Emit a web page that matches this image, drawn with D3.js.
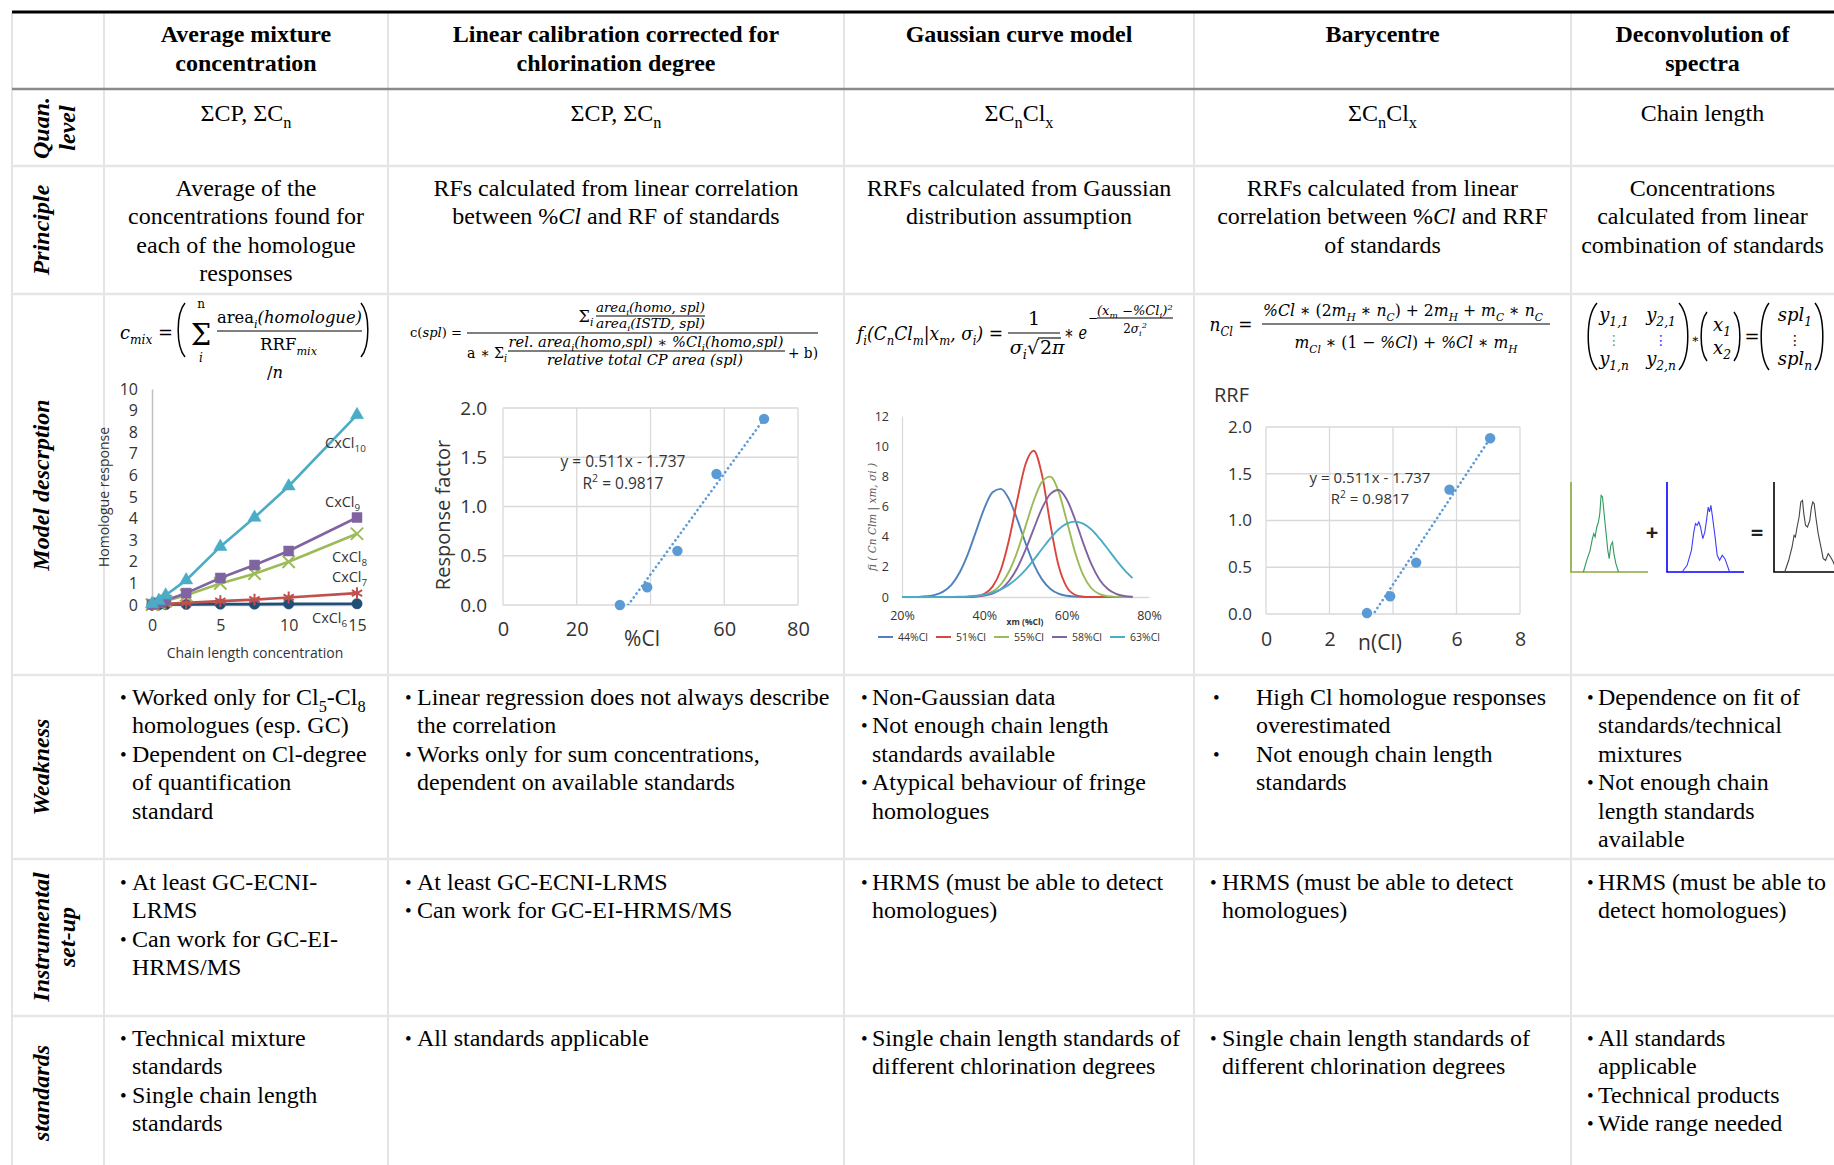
<!DOCTYPE html>
<html lang="en">
<head>
<meta charset="UTF-8">
<title>Quantification approaches for chlorinated paraffins</title>
<script src="https://d3js.org/d3.v7.min.js"></script>
<style>
  body { margin: 0; background: #fff; }
  svg { display: block; background: #fff; }
  .cell { font-family: "Liberation Serif", "Times New Roman", serif; font-size: 24px; fill: #000; }
  .head { font-weight: bold; }
  .rowlab { font-weight: bold; font-style: italic; }
  .bul { font-size: 19px; }
  .math { font-family: "DejaVu Serif", serif; font-style: italic; fill: #000; }
  .ch { font-family: "Open Sans", sans-serif; fill: #333; }
</style>
</head>
<body>
<svg id="fig" width="1834" height="1165"></svg>
<script>
// ---- table text ----
const methods = [
  ["Average mixture", "concentration"],
  ["Linear calibration corrected for", "chlorination degree"],
  ["Gaussian curve model"],
  ["Barycentre"],
  ["Deconvolution of", "spectra"]
];
const rowLabels = [["Quan.", "level"], ["Principle"], ["Model descrption"], ["Weakness"], ["Instrumental", "set-up"], ["standards"]];
const quanLevel = ["ΣCP, ΣC_{n}", "ΣCP, ΣC_{n}", "ΣC_{n}Cl_{x}", "ΣC_{n}Cl_{x}", "Chain length"];
const principle = [
  ["Average of the", "concentrations found for", "each of the homologue", "responses"],
  ["RFs calculated  from linear correlation", "between %@{Cl} and RF of standards"],
  ["RRFs calculated  from Gaussian", "distribution assumption"],
  ["RRFs calculated  from linear", "correlation  between %@{Cl} and RRF", "of standards"],
  ["Concentrations", "calculated  from linear", "combination of standards"]
];
const weakness = [
  [["Worked only for Cl_{5}-Cl_{8}", "homologues (esp. GC)"], ["Dependent on Cl-degree", "of quantification", "standard"]],
  [["Linear regression does not always describe", "the correlation"], ["Works only for sum concentrations,", "dependent on available  standards"]],
  [["Non-Gaussian data"], ["Not enough chain length", "standards available"], ["Atypical behaviour of fringe", "homologues"]],
  [["High Cl homologue responses", "overestimated"], ["Not enough chain length", "standards"]],
  [["Dependence on fit of", "standards/technical", "mixtures"], ["Not enough chain", "length standards", "available"]]
];
const instrumental = [
  [["At least GC-ECNI-", "LRMS"], ["Can work for GC-EI-", "HRMS/MS"]],
  [["At least GC-ECNI-LRMS"], ["Can work for GC-EI-HRMS/MS"]],
  [["HRMS (must be able to detect", "homologues)"]],
  [["HRMS (must be able to detect", "homologues)"]],
  [["HRMS (must be able to", "detect homologues)"]]
];
const standardsTxt = [
  [["Technical  mixture", "standards"], ["Single  chain length", "standards"]],
  [["All standards applicable"]],
  [["Single chain length standards of", "different chlorination degrees"]],
  [["Single chain length standards of", "different chlorination degrees"]],
  [["All standards", "applicable"], ["Technical  products"], ["Wide range needed"]]
];

// ---- chart 1: homologue response vs chain length concentration ----
const chainConc = [0, 0.5, 1, 2.5, 5, 7.5, 10, 15];
const cxcl10 = [0.05, 0.2, 0.45, 1.15, 2.7, 4.05, 5.5, 8.8];
const cxcl9 = [0.03, 0.1, 0.22, 0.55, 1.25, 1.85, 2.5, 4.05];
const cxcl8 = [0.02, 0.08, 0.18, 0.45, 1.0, 1.45, 2.0, 3.3];
const cxcl7 = [0, 0.02, 0.05, 0.1, 0.18, 0.25, 0.35, 0.55];
const cxcl6 = [0, 0.01, 0.02, 0.03, 0.04, 0.04, 0.05, 0.06];
const respTicks = [0, 1, 2, 3, 4, 5, 6, 7, 8, 9, 10];
const concTicks = [0, 5, 10, 15];

// ---- chart 2: response factor vs %Cl ----
const pctCl = [31.7, 39.1, 47.3, 57.9, 70.8];
const respFactor = [0.0, 0.18, 0.55, 1.33, 1.89];
const pctGrid = [0, 20, 40, 60, 80];
const pctLabels = [0, 20, 60, 80];
const rfTicks = [0, 0.5, 1.0, 1.5, 2.0];

// ---- chart 3: gaussian curves ----
const xm = [20, 22, 24, 26, 28, 30, 32, 34, 36, 38, 40, 42, 44, 46, 48, 50, 52, 54, 56, 58, 60, 62, 64, 66, 68, 70, 72, 74, 76];
const g44 = [0, 0, 0.01, 0.05, 0.14, 0.36, 0.81, 1.62, 2.84, 4.37, 5.88, 6.94, 7.17, 6.49, 5.15, 3.58, 2.18, 1.17, 0.55, 0.22, 0.08, 0.03, 0.01, 0, 0, 0, 0, 0, 0];
const g51 = [0, 0, 0, 0, 0, 0, 0, 0, 0.01, 0.05, 0.21, 0.69, 1.79, 3.79, 6.43, 8.8, 9.7, 8.1, 4.88, 2.12, 0.67, 0.15, 0.02, 0, 0, 0, 0, 0, 0];
const g55 = [0, 0, 0, 0, 0, 0, 0, 0, 0.01, 0.04, 0.14, 0.36, 0.83, 1.69, 3.0, 4.68, 6.38, 7.63, 7.98, 7.02, 5.07, 3.0, 1.46, 0.58, 0.19, 0.05, 0.01, 0, 0];
const g58 = [0, 0, 0, 0, 0, 0, 0, 0, 0.01, 0.03, 0.09, 0.23, 0.52, 1.06, 1.92, 3.12, 4.52, 5.87, 6.82, 7.09, 6.48, 5.17, 3.59, 2.18, 1.15, 0.53, 0.21, 0.07, 0.02];
const g63 = [0, 0, 0, 0, 0, 0, 0.01, 0.02, 0.04, 0.08, 0.16, 0.29, 0.5, 0.82, 1.25, 1.8, 2.46, 3.18, 3.87, 4.47, 4.86, 5.0, 4.86, 4.47, 3.87, 3.18, 2.46, 1.8, 1.25];
const gaussNames = ["44%Cl", "51%Cl", "55%Cl", "58%Cl", "63%Cl"];
const fiTicks = [0, 2, 4, 6, 8, 10, 12];
const xmTicks = [20, 40, 60, 80];

// ---- chart 4: RRF vs n(Cl) ----
const nCl = [3.18, 3.91, 4.73, 5.78, 7.06];
const rrf = [0.01, 0.19, 0.55, 1.33, 1.88];
const nGrid = [0, 2, 4, 6, 8];
const nLabels = [0, 2, 6, 8];

// ---- chart 5: spectra (relative position, relative intensity) ----
const specStd1 = [[16.1, 0], [20.4, 13], [24.8, 24.1], [27.8, 37], [29.6, 42.6], [31.3, 38.9], [33.5, 50], [35.7, 55.6], [37.4, 64.8], [39.1, 85.2], [40.9, 83.3], [43, 64.8], [45.2, 46.3], [47.8, 24.1], [49.6, 14.8], [51.7, 29.6], [53.9, 33.3], [55.7, 20.4], [58.3, 9.3], [61.7, 0]];
const specStd2 = [[19.6, 0], [26.1, 7.4], [31.7, 24.1], [34.8, 44.4], [37, 53.7], [39.1, 51.9], [41.3, 55.6], [43.5, 50], [46.5, 37], [49.1, 44.4], [51.3, 57.4], [53.5, 72.2], [55.2, 66.7], [57, 74.1], [59.1, 61.1], [62.2, 40.7], [65.2, 18.5], [68.3, 13], [71.7, 18.5], [75.2, 14.8], [78.3, 7.4], [81.3, 0]];
const specSample = [[13.9, 0], [19.1, 13], [23.5, 27.8], [26.1, 40.7], [27.8, 38.9], [30, 50], [32.6, 61.1], [34.8, 77.8], [37, 79.6], [38.7, 64.8], [40.9, 51.9], [43.5, 50], [46.5, 57.4], [48.7, 72.2], [50.4, 77.8], [52.2, 75.9], [54.3, 61.1], [57.4, 42.6], [60.9, 27.8], [63.9, 14.8], [67, 13], [70.4, 20.4], [73.5, 16.7], [77, 11.1], [81.3, 1.9]];

// ---- layout ----
const FS = 24, LH = 28.4;
const colX = [12, 104, 388, 844, 1194, 1571, 1834];
const rowY = [12, 89, 166, 294, 675, 859, 1016, 1165];
const mid = i => (colX[i + 1] + colX[i + 2]) / 2;
const bulletX = [120, 405, 861, 1210, 1587];
const textX = [132, 417, 872, 1222, 1598];

const svg = d3.select("#fig");

// text with _{sub} ^{sup} @{italic} #{upright}
function rich(t, str, fs) {
  const parts = str.split(/(_\{[^}]*\}|\^\{[^}]*\}|@\{[^}]*\}|#\{[^}]*\})/).filter(s => s.length);
  let shift = 0;
  parts.forEach(p => {
    let txt = p, dy = 0, small = false, style = null;
    const tag = p.slice(0, 2);
    if (tag === "_{") { txt = p.slice(2, -1); dy = fs * 0.28; small = true; }
    else if (tag === "^{") { txt = p.slice(2, -1); dy = -fs * 0.42; small = true; }
    else if (tag === "@{") { txt = p.slice(2, -1); style = "italic"; }
    else if (tag === "#{") { txt = p.slice(2, -1); style = "normal"; }
    const ts = t.append("tspan").text(txt);
    if (dy - shift !== 0) ts.attr("dy", dy - shift);
    shift = dy;
    if (small) ts.style("font-size", (fs * 0.68) + "px");
    if (style) ts.style("font-style", style);
  });
  return t;
}

function mtext(g, x, y, str, fs, anchor, len) {
  const t = g.append("text").attr("class", "math").attr("x", x).attr("y", y)
    .attr("text-anchor", anchor || "start").style("font-size", fs + "px");
  rich(t, str, fs);
  if (len) t.attr("textLength", len).attr("lengthAdjust", "spacingAndGlyphs");
  return t;
}

function hbar(g, xa, xb, y) {
  g.append("line").attr("x1", xa).attr("x2", xb).attr("y1", y).attr("y2", y)
    .attr("stroke", "#000").attr("stroke-width", 1.1);
}

function paren(g, x, y0, y1, side, w) {
  const h = y1 - y0, p = d3.path();
  if (side === "L") {
    p.moveTo(x + w, y0);
    p.bezierCurveTo(x - w * 0.3, y0 + h * 0.2, x - w * 0.3, y1 - h * 0.2, x + w, y1);
  } else {
    p.moveTo(x - w, y0);
    p.bezierCurveTo(x + w * 0.3, y0 + h * 0.2, x + w * 0.3, y1 - h * 0.2, x - w, y1);
  }
  g.append("path").attr("d", p.toString()).attr("fill", "none").attr("stroke", "#000").attr("stroke-width", 1.5);
}

// ---- grid of the table ----
const grid = svg.append("g");
colX.slice(0, 6).forEach(x => {
  grid.append("line").attr("x1", x).attr("x2", x).attr("y1", rowY[0]).attr("y2", 1165)
    .attr("stroke", "#e4e4e4").attr("stroke-width", 2);
});
rowY.slice(2, 7).forEach(y => {
  grid.append("line").attr("x1", colX[0]).attr("x2", 1834).attr("y1", y).attr("y2", y)
    .attr("stroke", "#e6e6e6").attr("stroke-width", 2.5);
});
grid.append("line").attr("x1", colX[0]).attr("x2", 1834).attr("y1", rowY[1]).attr("y2", rowY[1])
  .attr("stroke", "#8a8a8a").attr("stroke-width", 2.5);
grid.append("line").attr("x1", colX[0]).attr("x2", 1834).attr("y1", rowY[0]).attr("y2", rowY[0])
  .attr("stroke", "#000").attr("stroke-width", 3);

// ---- header ----
const txt = svg.append("g");
methods.forEach((lines, i) => {
  lines.forEach((s, k) => {
    txt.append("text").attr("class", "cell head").attr("x", mid(i)).attr("y", 41.5 + k * 29)
      .attr("text-anchor", "middle").text(s);
  });
});

// ---- row labels (rotated) ----
const rowMid = [128, 230, 485, 767, 937, 1093];
rowLabels.forEach((lines, r) => {
  lines.forEach((s, k) => {
    txt.append("text").attr("class", "cell rowlab")
      .attr("transform", `translate(${41 + k * 26},${rowMid[r]}) rotate(-90)`)
      .attr("text-anchor", "middle").attr("dy", "0.33em").text(s);
  });
});

// ---- centred rows ----
quanLevel.forEach((s, i) => {
  rich(txt.append("text").attr("class", "cell").attr("x", mid(i)).attr("y", 121).attr("text-anchor", "middle"), s, FS);
});
principle.forEach((lines, i) => {
  lines.forEach((s, k) => {
    rich(txt.append("text").attr("class", "cell").attr("x", mid(i)).attr("y", 196 + k * LH).attr("text-anchor", "middle"), s, FS);
  });
});

// ---- bullet rows ----
function bullets(items, xb, xt, y0) {
  let k = 0;
  items.forEach(item => {
    txt.append("text").attr("class", "cell bul").attr("x", xb).attr("y", y0 + k * LH - 1).text("•");
    item.forEach(s => {
      rich(txt.append("text").attr("class", "cell").attr("x", xt).attr("y", y0 + k * LH), s, FS);
      k++;
    });
  });
}
weakness.forEach((items, i) => {
  if (i === 3) bullets(items, 1213, 1256, 705);
  else bullets(items, bulletX[i], textX[i], 705);
});
instrumental.forEach((items, i) => bullets(items, bulletX[i], textX[i], 890));
standardsTxt.forEach((items, i) => bullets(items, bulletX[i], textX[i], 1046));

// =================== chart 1 ===================
const c1 = svg.append("g");
mtext(c1, 120, 339, "c_{mix} #{=}", 18, "start", 53);
paren(c1, 178, 303, 357, "L", 7);
paren(c1, 368, 303, 357, "R", 7);
mtext(c1, 201, 345, "#{Σ}", 29, "middle");
mtext(c1, 201, 308, "#{n}", 12, "middle");
mtext(c1, 201, 362, "i", 12, "middle");
mtext(c1, 289.5, 323, "#{area}_{i}(homologue)", 17, "middle", 145);
hbar(c1, 217, 362, 331);
mtext(c1, 288.5, 350, "#{RRF}_{mix}", 17, "middle", 57);
mtext(c1, 275, 378, "#{/}n", 17, "middle", 16);

const x1 = d3.scaleLinear().domain([0, 15]).range([152, 357]);
const y1 = d3.scaleLinear().domain([0, 10]).range([605, 389]);
const ax1y = c1.append("g").attr("transform", "translate(152,0)")
  .call(d3.axisLeft(y1).tickValues(respTicks).tickSize(0).tickPadding(14));
const ax1x = c1.append("g").attr("transform", "translate(0,605)")
  .call(d3.axisBottom(x1).tickValues(concTicks).tickSize(0).tickPadding(15));
[ax1y, ax1x].forEach(a => {
  a.select(".domain").attr("stroke", "#bfbfbf").attr("stroke-width", 1.5);
  a.selectAll("text").attr("class", "ch").style("font-size", "16px").attr("fill", "#333");
});
c1.append("text").attr("class", "ch").attr("transform", "translate(104,497) rotate(-90)")
  .attr("text-anchor", "middle").attr("dy", "0.35em").style("font-size", "14px").text("Homologue response");
c1.append("text").attr("class", "ch").attr("x", 255).attr("y", 658)
  .attr("text-anchor", "middle").style("font-size", "14px").text("Chain length concentration");

const times = d3.symbolTimes || d3.symbolCross;
const aster = d3.symbolAsterisk || d3.symbolCross;
const series1 = [
  { v: cxcl6, c: "#1f4e79", sym: d3.symbolCircle, size: 85, stroke: false },
  { v: cxcl7, c: "#c0504d", sym: aster, size: 100, stroke: true },
  { v: cxcl8, c: "#9bbb59", sym: times, size: 100, stroke: true },
  { v: cxcl9, c: "#8064a2", sym: d3.symbolSquare, size: 100, stroke: false },
  { v: cxcl10, c: "#4bacc6", sym: d3.symbolTriangle, size: 75, stroke: false }
];
const line1 = d3.line().x(d => x1(d[0])).y(d => y1(d[1]));
series1.forEach(s => {
  const pts = chainConc.map((c, i) => [c, s.v[i]]);
  c1.append("path").attr("d", line1(pts)).attr("fill", "none").attr("stroke", s.c).attr("stroke-width", 2.6);
  c1.selectAll(null).data(pts).enter().append("path")
    .attr("transform", d => `translate(${x1(d[0])},${y1(d[1])})`)
    .attr("d", d3.symbol().type(s.sym).size(s.size))
    .attr("fill", s.stroke ? "none" : s.c)
    .attr("stroke", s.c).attr("stroke-width", s.stroke ? 2 : 0.5);
});
const lab1 = [["CxCl_{10}", 325, 448], ["CxCl_{9}", 325, 507], ["CxCl_{8}", 332, 562], ["CxCl_{7}", 332, 582], ["CxCl_{6}", 312, 623]];
lab1.forEach(l => {
  rich(c1.append("text").attr("class", "ch").attr("x", l[1]).attr("y", l[2]).style("font-size", "14.5px"), l[0], 14.5);
});

// regression helper for trendlines
function fit(xs, ys) {
  const mx = d3.mean(xs), my = d3.mean(ys);
  const sxy = d3.sum(xs, (x, i) => (x - mx) * (ys[i] - my));
  const sxx = d3.sum(xs, x => (x - mx) * (x - mx));
  const b = sxy / sxx;
  return { b: b, a: my - b * mx };
}

function scatter(g, id, xs, ys, xS, yS, gridX, labX, yTicks, o) {
  const [xa, xb] = xS.range(), [ya, yb] = yS.range();
  gridX.forEach(v => g.append("line").attr("x1", xS(v)).attr("x2", xS(v)).attr("y1", ya).attr("y2", yb)
    .attr("stroke", "#d9d9d9").attr("stroke-width", 1.3));
  yTicks.forEach(v => g.append("line").attr("x1", xa).attr("x2", xb).attr("y1", yS(v)).attr("y2", yS(v))
    .attr("stroke", "#d9d9d9").attr("stroke-width", 1.3));
  const ay = g.append("g").attr("transform", `translate(${xa},0)`)
    .call(d3.axisLeft(yS).tickValues(yTicks).tickFormat(d3.format(".1f")).tickSize(0).tickPadding(o.padY));
  const ax = g.append("g").attr("transform", `translate(0,${ya})`)
    .call(d3.axisBottom(xS).tickValues(labX).tickFormat(d3.format("d")).tickSize(0).tickPadding(o.padX));
  ay.selectAll("text").attr("class", "ch").style("font-size", o.fy + "px").attr("fill", "#262626");
  ax.selectAll("text").attr("class", "ch").style("font-size", o.fx + "px").attr("fill", "#262626");
  [ay, ax].forEach(a => a.select(".domain").remove());
  // trendline, clipped to the plot area
  g.append("clipPath").attr("id", id).append("rect")
    .attr("x", xa).attr("y", yb).attr("width", xb - xa).attr("height", ya - yb);
  const f = fit(xs, ys), x0 = d3.min(xs), x9 = d3.max(xs);
  g.append("line").attr("clip-path", `url(#${id})`)
    .attr("x1", xS(x0)).attr("y1", yS(f.a + f.b * x0)).attr("x2", xS(x9)).attr("y2", yS(f.a + f.b * x9))
    .attr("stroke", "#5b9bd5").attr("stroke-width", 2.6).attr("stroke-linecap", "round").attr("stroke-dasharray", "0.1 4.6");
  g.selectAll(null).data(xs).enter().append("circle")
    .attr("cx", d => xS(d)).attr("cy", (d, i) => yS(ys[i])).attr("r", 5.2).attr("fill", "#5b9bd5");
}

// =================== chart 2 ===================
const c2 = svg.append("g");
mtext(c2, 436, 337, "#{c(}spl#{) =}", 13.5, "middle", 52);
hbar(c2, 467, 818, 333);
mtext(c2, 586, 322, "#{Σ}_{i}", 16, "middle");
mtext(c2, 650.5, 312, "area_{i}(homo, spl)", 12, "middle", 109);
hbar(c2, 596, 705, 316);
mtext(c2, 650.5, 328, "area_{i}(ISTD, spl)", 12, "middle", 109);
mtext(c2, 487, 358, "#{a ∗ Σ}_{i}", 15, "middle", 40);
mtext(c2, 646, 347, "rel. area_{i}(homo,spl) #{∗} %Cl_{i}(homo,spl)", 14, "middle", 275);
hbar(c2, 508, 785, 351);
mtext(c2, 645, 365, "relative total CP area (spl)", 14, "middle", 196);
mtext(c2, 803, 358, "#{+ b)}", 15, "middle", 30);

const x2 = d3.scaleLinear().domain([0, 80]).range([503, 798]);
const y2 = d3.scaleLinear().domain([0, 2]).range([605, 408]);
scatter(c2, "clip2", pctCl, respFactor, x2, y2, pctGrid, pctLabels, rfTicks, { padY: 16, padX: 17, fy: 19, fx: 20 });
c2.append("text").attr("class", "ch").attr("x", 642).attr("y", 646).attr("text-anchor", "middle")
  .style("font-size", "21px").attr("fill", "#262626").text("%Cl");
c2.append("text").attr("class", "ch").attr("transform", "translate(443,515) rotate(-90)")
  .attr("text-anchor", "middle").attr("dy", "0.35em").style("font-size", "20px").attr("fill", "#262626").text("Response factor");
c2.append("text").attr("class", "ch").attr("x", 623).attr("y", 467).attr("text-anchor", "middle")
  .style("font-size", "15.5px").attr("fill", "#808080").text("y = 0.511x - 1.737");
rich(c2.append("text").attr("class", "ch").attr("x", 623).attr("y", 489).attr("text-anchor", "middle")
  .style("font-size", "15.5px").attr("fill", "#808080"), "R^{2} = 0.9817", 15.5);

// =================== chart 3 ===================
const c3 = svg.append("g");
mtext(c3, 857, 340, "f_{i}(C_{n}Cl_{m}|x_{m}, σ_{i}) #{=}", 19, "start", 146);
mtext(c3, 1034, 325, "#{1}", 19, "middle");
hbar(c3, 1008, 1060, 333);
mtext(c3, 1039, 354, "σ_{i}#{√}", 19, "end");
mtext(c3, 1040, 354, "#{2}π", 19, "start");
hbar(c3, 1038, 1061, 338);
mtext(c3, 1064, 339, "#{∗} e", 19, "start", 23);
mtext(c3, 1093, 322, "#{−}", 12, "middle");
mtext(c3, 1135, 315, "(x_{m} #{−}%Cl_{i})^{2}", 12, "middle", 76);
hbar(c3, 1097, 1173, 318);
mtext(c3, 1135, 333, "#{2}σ_{i}^{2}", 12, "middle");

const x3 = d3.scaleLinear().domain([20, 80]).range([902, 1149]);
const y3 = d3.scaleLinear().domain([0, 12]).range([597, 416]);
const ax3y = c3.append("g").attr("transform", "translate(902,0)")
  .call(d3.axisLeft(y3).tickValues(fiTicks).tickSize(0).tickPadding(13));
const ax3x = c3.append("g").attr("transform", "translate(0,597)")
  .call(d3.axisBottom(x3).tickValues(xmTicks).tickFormat(d => d + "%").tickSize(0).tickPadding(14));
[ax3y, ax3x].forEach(a => {
  a.select(".domain").attr("stroke", "#d9d9d9").attr("stroke-width", 1.3);
  a.selectAll("text").attr("class", "ch").style("font-size", "12.5px").attr("fill", "#595959");
});
c3.append("text").attr("class", "ch").attr("x", 1025).attr("y", 625).attr("text-anchor", "middle")
  .style("font-size", "8.5px").style("font-weight", "bold").attr("fill", "#404040").text("xm (%Cl)");
c3.append("text").attr("transform", "translate(872,517) rotate(-90)").attr("text-anchor", "middle").attr("dy", "0.35em")
  .style("font-family", "'DejaVu Serif', serif").style("font-style", "italic").style("font-size", "10.5px").attr("fill", "#595959")
  .text("fi ( Cn Clm | xm, σi )");
const gaussCols = ["#4f81bd", "#d9463f", "#9bbb59", "#8064a2", "#4bacc6"];
const gaussSets = [g44, g51, g55, g58, g63];
const line3 = d3.line().x(d => x3(d[0])).y(d => y3(d[1])).curve(d3.curveMonotoneX);
gaussSets.forEach((v, k) => {
  c3.append("path").attr("d", line3(xm.map((x, i) => [x, v[i]])))
    .attr("fill", "none").attr("stroke", gaussCols[k]).attr("stroke-width", 1.9);
});
const leg3 = c3.selectAll(null).data(gaussNames).enter().append("g")
  .attr("transform", (d, i) => `translate(${878 + i * 58},637)`);
leg3.append("line").attr("x1", 0).attr("x2", 15).attr("stroke", (d, i) => gaussCols[i]).attr("stroke-width", 2);
leg3.append("text").attr("class", "ch").attr("x", 20).attr("dy", "0.35em").style("font-size", "10.5px")
  .attr("fill", "#595959").text(d => d);

// =================== chart 4 ===================
const c4 = svg.append("g");
mtext(c4, 1231, 331, "n_{Cl} #{=}", 19, "middle", 43);
hbar(c4, 1262, 1550, 324);
mtext(c4, 1403, 316, "%Cl  #{∗ (2}m_{H} #{∗} n_{C}#{) + 2}m_{H} #{+} m_{C} #{∗} n_{C}", 17, "middle", 280);
mtext(c4, 1406, 348, "m_{Cl} #{∗ (1 − }%Cl#{) + }%Cl #{∗} m_{H}", 17, "middle", 223);
c4.append("text").attr("class", "ch").attr("x", 1214).attr("y", 402).style("font-size", "20px").attr("fill", "#000").text("RRF");

const x4 = d3.scaleLinear().domain([0, 8]).range([1266, 1520]);
const y4 = d3.scaleLinear().domain([0, 2]).range([614, 427]);
scatter(c4, "clip4", nCl, rrf, x4, y4, nGrid, nLabels, rfTicks, { padY: 14, padX: 18, fy: 17, fx: 19.5 });
c4.append("text").attr("class", "ch").attr("x", 1380).attr("y", 650).attr("text-anchor", "middle")
  .style("font-size", "21px").attr("fill", "#262626").text("n(Cl)");
c4.append("text").attr("class", "ch").attr("x", 1370).attr("y", 483).attr("text-anchor", "middle")
  .style("font-size", "15px").attr("fill", "#808080").text("y = 0.511x - 1.737");
rich(c4.append("text").attr("class", "ch").attr("x", 1370).attr("y", 504).attr("text-anchor", "middle")
  .style("font-size", "15px").attr("fill", "#808080"), "R^{2} = 0.9817", 15);

// =================== chart 5 ===================
const c5 = svg.append("g");
const olive = "#7f9a3a", blue = "#2b2bff", red = "#d05a5a";
paren(c5, 1588, 303, 370, "L", 9);
paren(c5, 1688, 303, 370, "R", 9);
mtext(c5, 1614, 321, "y_{1,1}", 18, "middle").attr("fill", olive);
mtext(c5, 1661, 321, "y_{2,1}", 18, "middle").attr("fill", blue);
c5.append("text").attr("x", 1614).attr("y", 345).attr("text-anchor", "middle").style("font-family", "'DejaVu Sans', sans-serif")
  .style("font-size", "14px").attr("fill", olive).text("⋮");
c5.append("text").attr("x", 1661).attr("y", 345).attr("text-anchor", "middle").style("font-family", "'DejaVu Sans', sans-serif")
  .style("font-size", "14px").attr("fill", blue).text("⋮");
mtext(c5, 1614, 365, "y_{1,n}", 18, "middle").attr("fill", olive);
mtext(c5, 1661, 365, "y_{2,n}", 18, "middle").attr("fill", blue);
mtext(c5, 1695, 343, "#{∗}", 12, "middle");
paren(c5, 1701, 312, 361, "L", 6);
paren(c5, 1740, 312, 361, "R", 6);
mtext(c5, 1722, 331, "x_{1}", 18, "middle").attr("fill", red);
mtext(c5, 1722, 354, "x_{2}", 18, "middle").attr("fill", red);
mtext(c5, 1752, 343, "#{=}", 18, "middle");
paren(c5, 1761, 303, 370, "L", 8);
paren(c5, 1823, 303, 370, "R", 8);
mtext(c5, 1795, 321, "spl_{1}", 18, "middle");
c5.append("text").attr("x", 1795).attr("y", 345).attr("text-anchor", "middle").style("font-family", "'DejaVu Sans', sans-serif")
  .style("font-size", "14px").text("⋮");
mtext(c5, 1795, 365, "spl_{n}", 18, "middle");

function spectrum(x0, pts, axisCol, lineCol) {
  const sx = d3.scaleLinear().domain([0, 100]).range([x0, x0 + 77]);
  const sy = d3.scaleLinear().domain([0, 100]).range([572, 482]);
  c5.append("path").attr("d", d3.line()([[sx(0), sy(100)], [sx(0), sy(0)], [sx(100), sy(0)]]))
    .attr("fill", "none").attr("stroke", axisCol).attr("stroke-width", 1.6);
  c5.append("path").attr("d", d3.line().x(d => sx(d[0])).y(d => sy(d[1]))(pts))
    .attr("fill", "none").attr("stroke", lineCol).attr("stroke-width", 1.1);
}
spectrum(1571, specStd1, "#8aab3c", "#2e9a5c");
spectrum(1667, specStd2, "#0000ff", "#3d3dff");
spectrum(1774, specSample, "#000", "#444");
c5.append("text").attr("x", 1652).attr("y", 540).attr("text-anchor", "middle").style("font-family", "'Open Sans', sans-serif")
  .style("font-size", "22px").style("font-weight", "bold").attr("fill", "#222").text("+");
c5.append("text").attr("x", 1757).attr("y", 540).attr("text-anchor", "middle").style("font-family", "'Open Sans', sans-serif")
  .style("font-size", "22px").style("font-weight", "bold").attr("fill", "#222").text("=");
</script>
</body>
</html>
